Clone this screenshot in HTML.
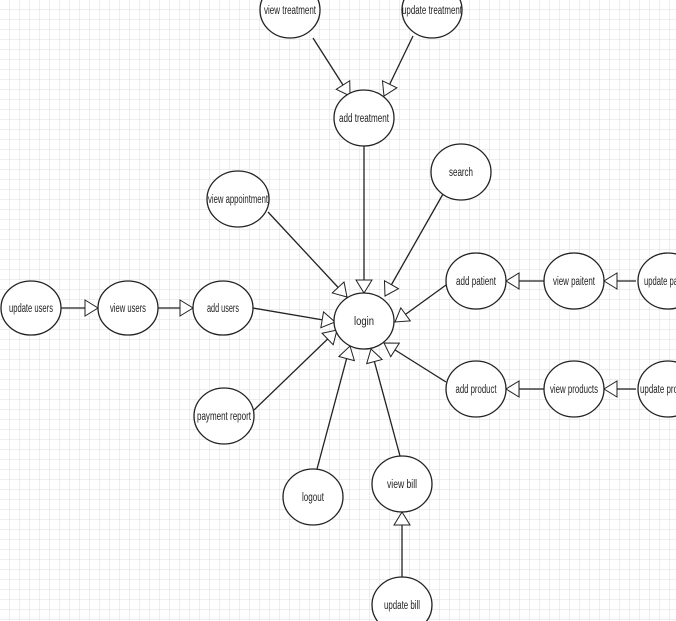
<!DOCTYPE html>
<html><head><meta charset="utf-8"><style>
html,body{margin:0;padding:0;background:#fff;}
svg{display:block}
text{font-family:"Liberation Sans",sans-serif;font-size:11.5px;fill:#222;text-anchor:middle;dominant-baseline:middle;}
</style></head><body>
<svg width="676" height="621" viewBox="0 0 676 621" xmlns="http://www.w3.org/2000/svg">
<defs>
<pattern id="g" width="10" height="10" patternUnits="userSpaceOnUse">
<path d="M10 0V10M0 10H10" stroke="#dcdcdc" stroke-width="1" fill="none"/>
</pattern>
<marker id="a" markerWidth="16" markerHeight="18" refX="14" refY="9" orient="auto" markerUnits="userSpaceOnUse">
<path d="M1 1 L14 9 L1 17 Z" fill="#fff" stroke="#222" stroke-width="1"/>
</marker>
</defs>
<rect width="676" height="621" fill="url(#g)"/>
<g stroke="#222" stroke-width="1.3" fill="none" marker-end="url(#a)">
<line x1="313" y1="38" x2="350" y2="96"/>
<line x1="413" y1="36" x2="384" y2="96"/>
<line x1="364" y1="146" x2="364" y2="293"/>
<line x1="443" y1="194" x2="385" y2="296"/>
<line x1="268" y1="212" x2="347" y2="297"/>
<line x1="446" y1="285" x2="395" y2="322"/>
<line x1="544" y1="281" x2="506" y2="281"/>
<line x1="636" y1="281" x2="604" y2="281"/>
<line x1="61" y1="308" x2="98" y2="308"/>
<line x1="158" y1="308" x2="193" y2="308"/>
<line x1="253" y1="308" x2="335" y2="322"/>
<line x1="254" y1="410" x2="337" y2="330"/>
<line x1="446" y1="382" x2="384" y2="343"/>
<line x1="544" y1="389" x2="506" y2="389"/>
<line x1="636" y1="389" x2="604" y2="389"/>
<line x1="317" y1="469" x2="350" y2="346"/>
<line x1="400" y1="456" x2="371" y2="349"/>
<line x1="402" y1="577" x2="402" y2="512"/>
</g>
<g stroke="#222" stroke-width="1.3" fill="#fff">
<ellipse cx="290" cy="10" rx="30" ry="28"/>
<ellipse cx="432" cy="10" rx="30" ry="28"/>
<ellipse cx="364" cy="118" rx="30" ry="28"/>
<ellipse cx="461" cy="172" rx="30" ry="28"/>
<ellipse cx="238" cy="199" rx="31" ry="28"/>
<ellipse cx="364" cy="321" rx="30" ry="28"/>
<ellipse cx="476" cy="281" rx="30" ry="28"/>
<ellipse cx="574" cy="281" rx="30" ry="28"/>
<ellipse cx="668" cy="281" rx="30" ry="28"/>
<ellipse cx="31" cy="308" rx="30" ry="27"/>
<ellipse cx="128" cy="308" rx="30" ry="27"/>
<ellipse cx="223" cy="308" rx="30" ry="27"/>
<ellipse cx="224" cy="416" rx="30" ry="28"/>
<ellipse cx="476" cy="389" rx="30" ry="28"/>
<ellipse cx="574" cy="389" rx="30" ry="28"/>
<ellipse cx="668" cy="389" rx="30" ry="28"/>
<ellipse cx="313" cy="497" rx="30" ry="28"/>
<ellipse cx="402" cy="484" rx="30" ry="28"/>
<ellipse cx="402" cy="605" rx="30" ry="28"/>
</g>
<g>
<text x="290" y="11" textLength="52" lengthAdjust="spacingAndGlyphs">view treatment</text>
<text x="432" y="11" textLength="60" lengthAdjust="spacingAndGlyphs">update treatment</text>
<text x="364" y="119" textLength="50" lengthAdjust="spacingAndGlyphs">add treatment</text>
<text x="461" y="173" textLength="24" lengthAdjust="spacingAndGlyphs">search</text>
<text x="238" y="200" textLength="60" lengthAdjust="spacingAndGlyphs">view appointment</text>
<text x="364" y="322" textLength="20" lengthAdjust="spacingAndGlyphs">login</text>
<text x="476" y="282" textLength="40" lengthAdjust="spacingAndGlyphs">add patient</text>
<text x="574" y="282" textLength="42" lengthAdjust="spacingAndGlyphs">view paitent</text>
<text x="644" y="282" style="text-anchor:start" textLength="34" lengthAdjust="spacingAndGlyphs">update pa</text>
<text x="31" y="309" textLength="44" lengthAdjust="spacingAndGlyphs">update users</text>
<text x="128" y="309" textLength="36" lengthAdjust="spacingAndGlyphs">view users</text>
<text x="223" y="309" textLength="32" lengthAdjust="spacingAndGlyphs">add users</text>
<text x="224" y="417" textLength="54" lengthAdjust="spacingAndGlyphs">payment report</text>
<text x="476" y="390" textLength="41" lengthAdjust="spacingAndGlyphs">add product</text>
<text x="574" y="390" textLength="48" lengthAdjust="spacingAndGlyphs">view products</text>
<text x="640" y="390" style="text-anchor:start" textLength="38" lengthAdjust="spacingAndGlyphs">update pro</text>
<text x="313" y="498" textLength="22" lengthAdjust="spacingAndGlyphs">logout</text>
<text x="402" y="485" textLength="30" lengthAdjust="spacingAndGlyphs">view bill</text>
<text x="402" y="606" textLength="36" lengthAdjust="spacingAndGlyphs">update bill</text>
</g>
</svg>
</body></html>
